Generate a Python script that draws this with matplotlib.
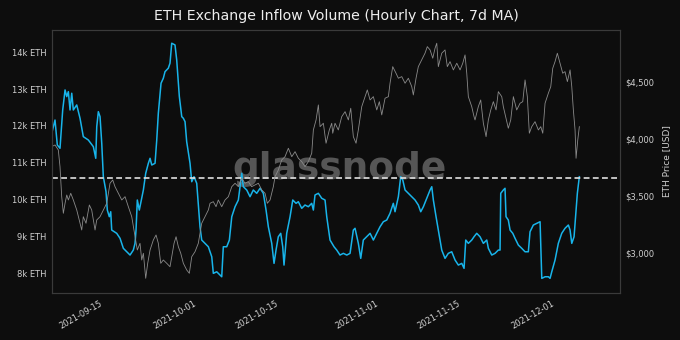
import pandas as pd
import matplotlib
matplotlib.use("Agg")
import matplotlib.pyplot as plt
import matplotlib.dates as mdates
from matplotlib.ticker import FuncFormatter, FixedLocator

# days are counted from 2021-09-15 00:00
inflow_days = [
    -8.91, -8.35, -7.96, -7.50, -7.04, -6.64, -6.35, -6.08, -5.79, -5.50,
    -5.23, -4.65, -4.09, -3.53, -2.68, -1.82, -1.41, -1.24, -0.97, -0.68,
    -0.39, -0.12, 0.34, 0.56, 0.90, 1.14, 1.31, 2.16, 2.73, 3.29,
    3.87, 4.43, 4.99, 5.28, 5.45, 5.67, 6.01, 6.70, 7.10, 7.55,
    7.84, 8.13, 8.69, 8.98, 9.25, 9.71, 10.10, 10.39, 10.95, 11.24,
    11.53, 12.09, 12.38, 12.83, 13.24, 13.51, 13.80, 14.08, 14.65, 14.94,
    15.33, 15.79, 16.35, 16.64, 17.21, 17.77, 18.35, 18.62, 19.20, 19.76,
    20.05, 20.32, 20.90, 21.35, 21.76, 22.32, 22.88, 23.46, 23.73, 24.31,
    24.87, 25.43, 26.01, 26.58, 27.14, 27.60, 27.99, 28.57, 28.96, 29.30,
    29.69, 30.10, 30.44, 30.66, 31.12, 31.69, 32.15, 32.71, 33.10, 33.68,
    34.24, 34.80, 35.38, 35.66, 35.94, 36.51, 37.09, 37.65, 37.94, 38.50,
    39.18, 39.64, 40.20, 40.77, 41.35, 41.91, 42.47, 42.76, 43.32, 43.73,
    44.17, 44.75, 45.32, 45.88, 46.46, 47.02, 47.58, 48.16, 48.72, 49.28,
    49.57, 50.14, 50.54, 50.89, 51.28, 51.84, 52.42, 52.98, 53.54, 53.95,
    54.40, 54.97, 55.54, 55.83, 56.10, 56.56, 56.95, 57.53, 58.09, 58.65,
    59.23, 59.80, 60.36, 60.94, 61.33, 61.62, 62.06, 62.64, 63.03, 63.49,
    64.05, 64.62, 65.20, 65.47, 66.05, 66.61, 67.17, 67.46, 67.58, 68.02,
    68.31, 68.48, 68.87, 69.17, 69.63, 70.02, 70.58, 71.16, 71.72, 72.28,
    72.57, 73.13, 73.71, 74.28, 74.57, 75.13, 75.69, 75.98, 76.27, 76.83,
    77.39, 77.97, 78.53, 79.10, 79.39, 79.68, 80.07, 80.41, 80.63, 80.97,
]
inflow_eth = [
    11800, 12160, 11483, 11394, 12433, 12976, 12795, 12930, 12433, 12887,
    12433, 12569, 12208, 11709, 11619, 11437, 11122, 11980, 12387, 12252,
    11529, 10623, 10215, 9718, 9537, 9672, 9175, 9086, 8950, 8679,
    8586, 8497, 8632, 8814, 9175, 9990, 9718, 10261, 10715, 10986,
    11122, 10940, 10986, 11619, 12344, 13158, 13294, 13473, 13566, 13701,
    14244, 14198, 13791, 12795, 12252, 12208, 12116, 11573, 10986, 10487,
    10623, 10443, 9265, 8904, 8814, 8722, 8451, 8000, 8043, 7954,
    7908, 8722, 8722, 8904, 9537, 9808, 9990, 10715, 10351, 10261,
    10080, 10261, 10172, 10308, 10172, 9718, 9265, 8814, 8271, 8632,
    8994, 9086, 8722, 8225, 9086, 9537, 9990, 9900, 9944, 9765,
    9854, 9808, 9900, 9718, 10126, 10172, 10036, 9990, 9537, 8904,
    8722, 8632, 8497, 8543, 8497, 8543, 9175, 9222, 8814, 8407,
    8904, 8994, 9086, 8904, 9086, 9265, 9401, 9447, 9629, 9900,
    9672, 10080, 10623, 10533, 10261, 10172, 10080, 9990, 9854, 9672,
    9808, 10036, 10261, 10351, 9990, 9537, 9175, 8632, 8407, 8543,
    8586, 8361, 8225, 8271, 8136, 8904, 8814, 8904, 8994, 9086,
    8994, 8814, 8904, 8679, 8497, 8543, 8632, 8632, 10172, 10261,
    10308, 9537, 9447, 9175, 9086, 8950, 8768, 8679, 8586, 8586,
    9129, 9311, 9357, 9401, 7864, 7908, 7908, 7864, 8043, 8361,
    8814, 9086, 9222, 9311, 9175, 8814, 8994, 9718, 10172, 10623,
]

price_days = [
    -8.91, -8.35, -7.79, -7.50, -7.21, -6.93, -6.64, -6.35, -6.08, -5.67,
    -5.23, -4.65, -4.09, -3.80, -3.53, -3.07, -2.50, -2.10, -1.53, -1.24,
    -0.68, -0.12, 0.46, 1.02, 1.48, 1.87, 2.44, 3.02, 3.58, 4.14,
    4.72, 5.28, 5.67, 6.13, 6.42, 6.70, 7.10, 7.44, 7.84, 8.40,
    8.86, 9.25, 9.66, 10.10, 10.68, 11.24, 11.53, 11.93, 12.27, 12.66,
    13.07, 13.51, 14.09, 14.53, 14.94, 15.50, 16.06, 16.64, 17.21, 17.77,
    18.06, 18.62, 19.08, 19.47, 20.05, 20.61, 21.18, 21.76, 22.32, 22.88,
    23.46, 24.02, 24.58, 25.14, 25.72, 26.29, 26.87, 27.43, 27.82, 28.28,
    28.84, 29.13, 29.69, 30.27, 30.83, 31.40, 31.98, 32.54, 33.10, 33.68,
    34.24, 34.80, 35.38, 35.66, 36.12, 36.51, 36.80, 37.36, 37.82, 38.38,
    38.79, 38.96, 39.35, 39.91, 40.49, 41.06, 41.62, 42.03, 42.47, 42.93,
    43.32, 43.90, 44.46, 44.85, 45.32, 45.88, 46.46, 46.90, 47.31, 47.87,
    48.44, 48.72, 49.18, 49.74, 50.14, 50.72, 51.28, 51.84, 52.42, 52.69,
    53.15, 53.54, 54.12, 54.68, 55.07, 55.54, 56.00, 56.39, 56.68, 56.95,
    57.53, 58.09, 58.48, 58.94, 59.51, 60.09, 60.65, 61.11, 61.50, 61.79,
    62.06, 62.64, 63.03, 63.20, 63.76, 64.17, 64.62, 65.08, 65.47, 65.88,
    66.32, 66.78, 67.17, 67.75, 68.02, 68.48, 68.87, 69.28, 69.73, 70.30,
    70.87, 71.33, 71.72, 72.11, 72.45, 72.86, 73.42, 73.99, 74.40, 74.74,
    75.13, 75.69, 76.10, 76.44, 76.83, 77.22, 77.68, 78.14, 78.53, 78.93,
    79.39, 79.68, 79.95, 80.24, 80.41, 80.70, 80.97,
]
price_usd = [
    3933, 3948, 3904, 3757, 3493, 3347, 3435, 3508, 3464, 3523,
    3464, 3376, 3259, 3200, 3317, 3259, 3420, 3376, 3200, 3288,
    3317, 3376, 3435, 3611, 3640, 3581, 3523, 3464, 3493, 3405,
    3317, 3141, 3024, 3083, 2936, 2995, 2775, 2907, 3024, 3112,
    3156, 3083, 2907, 2936, 2907, 2877, 2965, 3083, 3141, 3053,
    2995, 2907, 2848, 2819, 2965, 3009, 3083, 3259, 3317, 3376,
    3435, 3449, 3405, 3464, 3405, 3464, 3493, 3581, 3611, 3581,
    3655, 3611, 3625, 3581, 3596, 3611, 3552, 3523, 3435, 3464,
    3581, 3669, 3728, 3816, 3845, 3919, 3845, 3889, 3831, 3801,
    3757, 3801, 3875, 4080, 4168, 4300, 4109, 4139, 3963, 4080,
    4139, 4051, 4139, 4080, 4197, 4241, 4168, 4271, 4021, 3963,
    4080, 4285, 4373, 4432, 4344, 4373, 4256, 4329, 4212, 4359,
    4373, 4491, 4637, 4579, 4535, 4549, 4491, 4535, 4461, 4388,
    4535, 4637, 4696, 4755, 4813, 4784, 4711, 4799, 4843, 4637,
    4755, 4784, 4637, 4681, 4608, 4667, 4608, 4667, 4740, 4579,
    4373, 4285, 4197, 4168, 4285, 4344, 4139, 4021, 4168, 4256,
    4329, 4256, 4417, 4373, 4285, 4183, 4095, 4168, 4373, 4256,
    4315, 4329, 4520, 4373, 4051, 4109, 4153, 4080, 4109, 4051,
    4315, 4403, 4461, 4623, 4681, 4755, 4667, 4579, 4593, 4505,
    4608, 4461, 4256, 4080, 3831, 3992, 4109,
]

inflow_mean = 10590
date_ticks = ["2021-09-15", "2021-10-01", "2021-10-15", "2021-11-01", "2021-11-15", "2021-12-01"]
inflow_ticks = [8000, 9000, 10000, 11000, 12000, 13000, 14000]
price_ticks = [3000, 3500, 4000, 4500]

base = pd.Timestamp("2021-09-15")
t_inflow = base + pd.to_timedelta(inflow_days, unit="D")
t_price = base + pd.to_timedelta(price_days, unit="D")

bg = "#0d0d0d"
fg = "#d0d0d0"

fig = plt.figure(figsize=(6.8, 3.4), dpi=100, facecolor=bg)
ax = fig.add_axes([0.0765, 0.138, 0.8353, 0.774])
ax.set_facecolor(bg)
ax2 = ax.twinx()

ax.text(0.507, 0.47, "glassnode", transform=ax.transAxes, ha="center", va="center",
        fontsize=27, fontweight="bold", color="#565656", zorder=0)

ax.plot(t_inflow, inflow_eth, color="#18b4ea", lw=1.1, zorder=2)
ax.axhline(inflow_mean, color="#e0e0e0", ls=(0, (3.5, 2)), lw=1.2, zorder=3)
ax2.plot(t_price, price_usd, color="#8a8a8a", lw=0.6)

ax.set_xlim(base + pd.Timedelta(days=-8.86), base + pd.Timedelta(days=87.9))
ax.set_ylim(7465, 14605)
ax2.set_ylim(2645, 4960)

ax.xaxis.set_major_locator(FixedLocator(mdates.date2num(pd.to_datetime(date_ticks))))
ax.xaxis.set_major_formatter(mdates.DateFormatter("%Y-%m-%d"))
ax.set_yticks(inflow_ticks)
ax.yaxis.set_major_formatter(FuncFormatter(lambda v, p: "%dk ETH" % (v / 1000)))
ax2.set_yticks(price_ticks)
ax2.yaxis.set_major_formatter(FuncFormatter(lambda v, p: "${:,.0f}".format(v)))

for lab in ax.get_xticklabels():
    lab.set_rotation(30)
    lab.set_ha("right")

for a in (ax, ax2):
    a.tick_params(colors=fg, labelsize=6, length=0, pad=4)
    for s in a.spines.values():
        s.set_color("#3a3a3a")
        s.set_linewidth(0.8)

ax2.set_ylabel("ETH Price [USD]", color=fg, fontsize=6.5, labelpad=5)
ax.set_title("ETH Exchange Inflow Volume (Hourly Chart, 7d MA)", color="#eeeeee", fontsize=10.2, pad=7)

fig.savefig("out.png", dpi=100, facecolor=bg)
